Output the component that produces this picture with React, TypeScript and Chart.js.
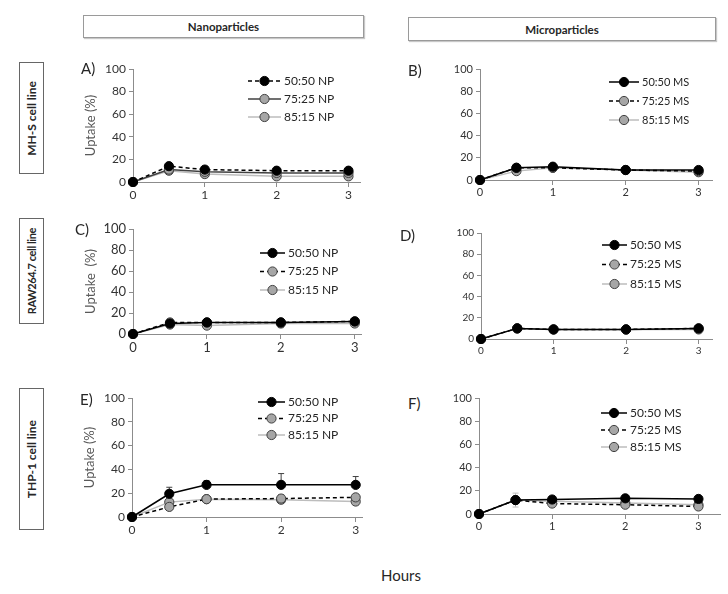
import React, { useEffect, useRef } from "react";
import { Chart, registerables } from "chart.js";
Chart.register(...registerables);

const hours = [0, 0.5, 1, 2, 3];
const xTickValues = [0, 1, 2, 3];
const yTickValues = [0, 20, 40, 60, 80, 100];

const npLabels = ["50:50 NP", "75:25 NP", "85:15 NP"];
const msLabels = ["50:50 MS", "75:25 MS", "85:15 MS"];

// Panel A: MH-S, nanoparticles
const a5050 = [0, 14, 11, 10, 10];
const a7525 = [0, 11, 9, 8, 8];
const a8515 = [0, 10, 7, 5, 5];
// Panel B: MH-S, microparticles
const b5050 = [0, 11, 12, 9, 9];
const b7525 = [0, 11, 11, 9, 8];
const b8515 = [0, 8, 11, 9, 7];
// Panel C: RAW264.7, nanoparticles
const c5050 = [0, 10, 11, 11, 12];
const c7525 = [0, 11, 11, 11, 12];
const c8515 = [0, 9, 8, 10, 10];
// Panel D: RAW264.7, microparticles
const d5050 = [0, 10, 9, 9, 10];
const d7525 = [0, 10, 9, 9, 10];
const d8515 = [0, 10, 9, 9, 9];
// Panel E: THP-1, nanoparticles
const e5050 = [0, 19.5, 27, 27, 27];
const e7525 = [0, 8.5, 15, 15.5, 16.5];
const e8515 = [0, 12.5, 15, 14.5, 13];
// Panel F: THP-1, microparticles
const f5050 = [0, 12, 12.5, 13.5, 13];
const f7525 = [0, 12, 9, 8, 6.5];
const f8515 = [0, 12, 11, 9.5, 8];

// error bars (standard deviation)
const noErr = [0, 0, 0, 0, 0];
const c8515Err = [0, 3, 0, 4, 0];
const e5050Err = [0, 5.5, 3.5, 9.5, 7];
const e7525Err = [0, 0, 0, 3, 2];
const e8515Err = [0, 0, 0, 3, 3];
const f8515Err = [0, 6, 0, 0, 0];

const BLACK = "#000000";
const DARK = "#404040";
const LIGHT = "#bdbdbd";
const GRAYFILL = "#a6a6a6";
const AXIS = "#8c8c8c";
const FONT = "Lato, 'Open Sans', sans-serif";

type Series = {
  label: string;
  data: number[];
  err: number[];
  errBoth: boolean;
  line: string;
  dash: number[];
  fill: string;
  border: string;
  errColor: string;
};

type Panel = {
  key: string;
  left: number;
  top: number;
  width: number;
  height: number;
  xMax: number;
  yTitle?: string;
  tickFont: number;
  legend: { x: number; y: number; gap: number; len: number; font: number };
  series: Series[];
};

const YW = 50;
const XH = 20;
const PT = 12;
const PR = 4;

function s(label: string, data: number[], err: number[], line: string, dash: number[], fill: string, border: string, errColor: string, errBoth = false): Series {
  return { label, data, err, errBoth, line, dash, fill, border, errColor };
}

function box(chartLeft: number, chartTop: number, chartRight: number, chartBottom: number) {
  const left = chartLeft - YW;
  const top = chartTop - PT;
  return { left, top, width: chartRight + PR - left, height: chartBottom + XH - top };
}

const panels: Panel[] = [
  {
    key: "A", ...box(133, 69, 362, 182), xMax: 3.166, yTitle: "Uptake (%)", tickFont: 12,
    legend: { x: 248, y: 81, gap: 18, len: 33, font: 12 },
    series: [
      s(npLabels[0], a5050, noErr, BLACK, [4, 3], BLACK, BLACK, DARK),
      s(npLabels[1], a7525, noErr, DARK, [], GRAYFILL, DARK, DARK),
      s(npLabels[2], a8515, noErr, LIGHT, [], GRAYFILL, DARK, LIGHT),
    ],
  },
  {
    key: "B", ...box(480, 69, 714, 180), xMax: 3.19, tickFont: 11,
    legend: { x: 609, y: 82, gap: 19, len: 30, font: 11 },
    series: [
      s(msLabels[0], b5050, noErr, BLACK, [], BLACK, BLACK, DARK),
      s(msLabels[1], b7525, noErr, BLACK, [4, 3], GRAYFILL, DARK, DARK),
      s(msLabels[2], b8515, noErr, LIGHT, [], GRAYFILL, DARK, LIGHT),
    ],
  },
  {
    key: "C", ...box(133, 229, 363, 334), xMax: 3.09, yTitle: "Uptake  (%)", tickFont: 13,
    legend: { x: 260, y: 253, gap: 18.5, len: 25, font: 12 },
    series: [
      s(npLabels[0], c5050, noErr, BLACK, [], BLACK, BLACK, DARK),
      s(npLabels[1], c7525, noErr, BLACK, [4, 3], GRAYFILL, DARK, DARK),
      s(npLabels[2], c8515, c8515Err, LIGHT, [], GRAYFILL, DARK, LIGHT, true),
    ],
  },
  {
    key: "D", ...box(481, 233, 714, 339), xMax: 3.19, tickFont: 10,
    legend: { x: 602, y: 245, gap: 19.5, len: 25, font: 12 },
    series: [
      s(msLabels[0], d5050, noErr, BLACK, [], BLACK, BLACK, DARK),
      s(msLabels[1], d7525, noErr, BLACK, [4, 3], GRAYFILL, DARK, DARK),
      s(msLabels[2], d8515, noErr, LIGHT, [], GRAYFILL, DARK, LIGHT),
    ],
  },
  {
    key: "E", ...box(132, 398, 364, 517), xMax: 3.09, yTitle: "Uptake (%)", tickFont: 12,
    legend: { x: 258, y: 402, gap: 16.5, len: 27, font: 12 },
    series: [
      s(npLabels[0], e5050, e5050Err, BLACK, [], BLACK, BLACK, DARK),
      s(npLabels[1], e7525, e7525Err, BLACK, [4, 3], GRAYFILL, DARK, DARK, true),
      s(npLabels[2], e8515, e8515Err, LIGHT, [], GRAYFILL, DARK, LIGHT, true),
    ],
  },
  {
    key: "F", ...box(479, 398, 722, 514), xMax: 3.3, tickFont: 11,
    legend: { x: 601, y: 413, gap: 17, len: 26, font: 12 },
    series: [
      s(msLabels[0], f5050, noErr, BLACK, [], BLACK, BLACK, DARK),
      s(msLabels[1], f7525, noErr, BLACK, [4, 3], GRAYFILL, DARK, DARK),
      s(msLabels[2], f8515, f8515Err, LIGHT, [], GRAYFILL, DARK, LIGHT, true),
    ],
  },
];

const R = 4.6;

function PanelChart({ p }: { p: Panel }) {
  const ref = useRef<HTMLCanvasElement | null>(null);
  useEffect(() => {
    if (!ref.current) return;
    const errorPlugin = {
      id: "errorBars" + p.key,
      beforeDatasetsDraw(chart: any) {
        const ctx = chart.ctx;
        const xs = chart.scales.x;
        const ys = chart.scales.y;
        p.series.forEach((ser) => {
          ser.err.forEach((e, j) => {
            if (!e) return;
            const x = xs.getPixelForValue(hours[j]);
            const yTop = ys.getPixelForValue(ser.data[j] + e);
            const yBot = ys.getPixelForValue(ser.errBoth ? ser.data[j] - e : ser.data[j]);
            ctx.save();
            ctx.strokeStyle = ser.errColor;
            ctx.lineWidth = 1;
            ctx.beginPath();
            ctx.moveTo(x, yBot);
            ctx.lineTo(x, yTop);
            ctx.moveTo(x - 3, yTop);
            ctx.lineTo(x + 3, yTop);
            if (ser.errBoth) {
              ctx.moveTo(x - 3, yBot);
              ctx.lineTo(x + 3, yBot);
            }
            ctx.stroke();
            ctx.restore();
          });
        });
      },
    };
    const legendPlugin = {
      id: "lineLegend" + p.key,
      afterDraw(chart: any) {
        const ctx = chart.ctx;
        const lg = p.legend;
        p.series.forEach((ser, i) => {
          const y = lg.y + i * lg.gap - p.top;
          const x0 = lg.x - p.left;
          const x1 = x0 + lg.len;
          ctx.save();
          ctx.strokeStyle = ser.line;
          ctx.lineWidth = 1.5;
          ctx.setLineDash(ser.dash);
          ctx.beginPath();
          ctx.moveTo(x0, y);
          ctx.lineTo(x1, y);
          ctx.stroke();
          ctx.setLineDash([]);
          ctx.beginPath();
          ctx.arc((x0 + x1) / 2, y, R, 0, Math.PI * 2);
          ctx.fillStyle = ser.fill;
          ctx.fill();
          ctx.strokeStyle = ser.border;
          ctx.lineWidth = 1;
          ctx.stroke();
          ctx.fillStyle = "#262626";
          ctx.font = `${lg.font}px ${FONT}`;
          ctx.textBaseline = "middle";
          ctx.textAlign = "left";
          ctx.fillText(ser.label, x1 + 3, y);
          ctx.restore();
        });
      },
    };
    const chart = new Chart(ref.current, {
      type: "line",
      data: {
        datasets: p.series.map((ser) => ({
          label: ser.label,
          data: hours.map((h, i) => ({ x: h, y: ser.data[i] })),
          borderColor: ser.line,
          borderDash: ser.dash,
          borderWidth: 1.5,
          pointRadius: R,
          pointHoverRadius: R,
          pointBackgroundColor: ser.fill,
          pointBorderColor: ser.border,
          pointBorderWidth: 1,
          tension: 0,
          clip: false as any,
        })),
      },
      options: {
        animation: false,
        responsive: false,
        events: [],
        layout: { padding: { top: PT, right: PR, left: 0, bottom: 0 } },
        plugins: { legend: { display: false }, tooltip: { enabled: false } },
        scales: {
          x: {
            type: "linear",
            min: 0,
            max: p.xMax,
            afterBuildTicks: (sc: any) => {
              sc.ticks = xTickValues.map((v) => ({ value: v }));
            },
            afterFit: (sc: any) => {
              sc.height = XH;
            },
            grid: { drawOnChartArea: false, color: AXIS, tickLength: 5 },
            border: { color: AXIS },
            ticks: { font: { size: p.tickFont, family: FONT }, color: "#333333", padding: 1, maxRotation: 0 },
          },
          y: {
            type: "linear",
            min: 0,
            max: 100,
            afterBuildTicks: (sc: any) => {
              sc.ticks = yTickValues.map((v) => ({ value: v }));
            },
            afterFit: (sc: any) => {
              sc.width = YW;
            },
            title: {
              display: !!p.yTitle,
              text: p.yTitle || "",
              font: { size: 13, family: FONT },
              color: "#595959",
              padding: { top: 0, bottom: 0 },
            },
            grid: { drawOnChartArea: false, color: AXIS, tickLength: 4 },
            border: { color: AXIS },
            ticks: { font: { size: p.tickFont, family: FONT }, color: "#333333", padding: 3 },
          },
        },
      },
      plugins: [errorPlugin, legendPlugin],
    } as any);
    return () => chart.destroy();
  }, [p]);
  return (
    <canvas
      ref={ref}
      width={p.width}
      height={p.height}
      style={{ position: "absolute", left: p.left, top: p.top, width: p.width, height: p.height }}
    />
  );
}

const letterPos: Record<string, [number, number]> = {
  A: [81, 68], B: [408, 70], C: [75, 229], D: [400, 235], E: [80, 399], F: [408, 403],
};

const cellBoxes = [
  { text: "MH-S cell line", top: 62, height: 111, size: 12, spacing: 0 },
  { text: "RAW264.7 cell line", top: 218, height: 105, size: 11, spacing: -0.4 },
  { text: "THP-1 cell line", top: 388, height: 141, size: 12, spacing: 0 },
];

export default function App() {
  return (
    <div style={{ position: "absolute", left: 0, top: 0, width: 728, height: 594, background: "#fff", fontFamily: FONT, color: "#262626" }}>
      <div style={{ position: "absolute", left: 83, top: 15, width: 279, height: 21, border: "1px solid #9a9a9a", boxShadow: "1px 1px 1px #c8c8c8", display: "flex", alignItems: "center", justifyContent: "center", fontWeight: 700, fontSize: 11.5 }}>
        Nanoparticles
      </div>
      <div style={{ position: "absolute", left: 408, top: 17, width: 306, height: 22, border: "1px solid #9a9a9a", boxShadow: "1px 1px 1px #c8c8c8", display: "flex", alignItems: "center", justifyContent: "center", fontWeight: 700, fontSize: 11.5 }}>
        Microparticles
      </div>
      {cellBoxes.map((b) => (
        <div key={b.text} style={{ position: "absolute", left: 19, top: b.top, width: 23, height: b.height - 1, border: "1px solid #666", display: "flex", alignItems: "center", justifyContent: "center", overflow: "hidden" }}>
          <div style={{ writingMode: "vertical-rl", transform: "rotate(180deg)", fontWeight: 700, fontSize: b.size, letterSpacing: b.spacing, whiteSpace: "nowrap" }}>{b.text}</div>
        </div>
      ))}
      {panels.map((p) => (
        <PanelChart key={p.key} p={p} />
      ))}
      {panels.map((p) => (
        <div key={"l" + p.key} style={{ position: "absolute", left: letterPos[p.key][0], top: letterPos[p.key][1] - 10, fontSize: 15, lineHeight: "20px" }}>
          {p.key + ")"}
        </div>
      ))}
      <div style={{ position: "absolute", left: 381, top: 565, fontSize: 15, lineHeight: "20px" }}>Hours</div>
    </div>
  );
}
